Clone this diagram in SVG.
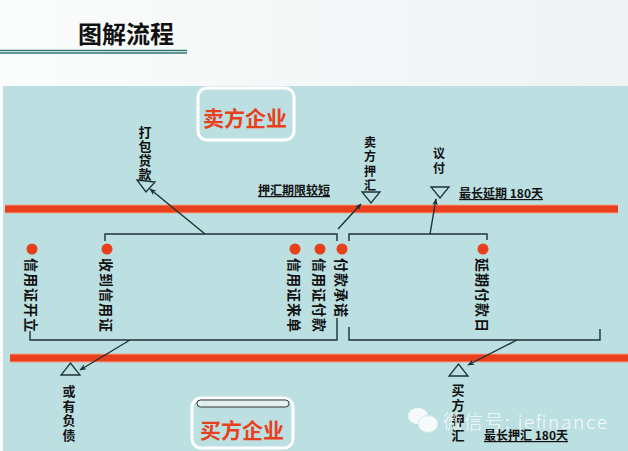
<svg xmlns="http://www.w3.org/2000/svg" width="628" height="451" viewBox="0 0 628 451">
<defs>
<linearGradient id="topbg" x1="0" y1="0" x2="1" y2="0">
<stop offset="0" stop-color="#fbfcfc"/>
<stop offset="1" stop-color="#eef3f3"/>
</linearGradient>
<marker id="arr" viewBox="0 0 10 10" refX="9" refY="5" markerWidth="7" markerHeight="7" orient="auto" markerUnits="userSpaceOnUse">
<path d="M0,1 L10,5 L0,9 L3,5 Z" fill="#1c3238"/>
</marker>
<style>
.cjk{font-family:"Noto Sans CJK SC","Liberation Sans",sans-serif;font-weight:bold;fill:#111}
.lbl{font-size:13px}
.rot{font-size:14px;letter-spacing:1px;dominant-baseline:central}
.firm{font-size:21px;fill:#e8401c;text-anchor:middle}
.redline{stroke:#e8401c;stroke-width:7}
.halo{stroke:#f3a68a;stroke-width:9}
.br{fill:none;stroke:#1c3238;stroke-width:1.4}
.arw{fill:none;stroke:#1c3238;stroke-width:1.4;marker-end:url(#arr)}
.tri{fill:none;stroke:#1c3238;stroke-width:1.3}
.dot{fill:#e8401c}
.note{font-size:12px;text-decoration:underline}
</style>
</defs>

<rect x="0" y="0" width="628" height="451" fill="url(#topbg)"/>
<rect x="3" y="86" width="625" height="365" fill="#bcdfe2"/>

<g id="title">
<text x="78" y="43" class="cjk" style="font-size:24px">图解流程</text>
<line x1="0" y1="50.5" x2="187" y2="50.5" stroke="#2f7a70" stroke-width="1.5"/>
<line x1="0" y1="53" x2="187" y2="53" stroke="#2f7a70" stroke-width="1.5"/>
</g>

<g id="timelines">
<line x1="5" y1="209" x2="618" y2="209" class="halo"/>
<line x1="5" y1="209" x2="618" y2="209" class="redline"/>
<line x1="10" y1="358" x2="628" y2="358" class="halo"/>
<line x1="10" y1="358" x2="628" y2="358" class="redline"/>
</g>

<g id="seller">
<rect x="198" y="88" width="96" height="52" rx="9" fill="none" stroke="#ffffff" stroke-width="3"/>
<text x="245" y="126" class="cjk firm">卖方企业</text>
</g>

<g id="buyer">
<rect x="192" y="398" width="101" height="50" rx="9" fill="none" stroke="#ffffff" stroke-width="3"/>
<rect x="197" y="400" width="92" height="7" rx="3.5" fill="#e2f0f1" stroke="#333" stroke-width="1"/>
<text x="242" y="438" class="cjk firm">买方企业</text>
</g>

<g id="connectors">
<polyline class="br" points="105,241 105,234 337,234 337,241"/>
<polyline class="br" points="349,241 349,234 487,234 487,240"/>
<polyline class="br" points="30,331 30,340 337,340 337,318"/>
<polyline class="br" points="349,327 349,340 600,340 600,329"/>
<line class="arw" x1="205" y1="234" x2="150" y2="189"/>
<line class="arw" x1="338" y1="229" x2="361" y2="204"/>
<line class="arw" x1="430" y1="234" x2="436" y2="199"/>
<line class="arw" x1="130" y1="340" x2="80" y2="370"/>
<line class="arw" x1="517" y1="340" x2="468" y2="365"/>
</g>

<g id="packing-loan">
<polygon class="tri" points="137,180 155,182 146,192"/>
<text class="cjk lbl" text-anchor="middle"><tspan x="145" y="137">打</tspan><tspan x="145" y="151">包</tspan><tspan x="145" y="165">贷</tspan><tspan x="145" y="179">款</tspan></text>
</g>

<g id="seller-nego">
<polygon class="tri" points="362,192 380,192 371,203"/>
<text class="cjk" style="font-size:12px" text-anchor="middle"><tspan x="370" y="147">卖</tspan><tspan x="370" y="161">方</tspan><tspan x="370" y="176">押</tspan><tspan x="370" y="190">汇</tspan></text>
</g>

<g id="negotiation">
<polygon class="tri" points="431,187 449,187 440,198"/>
<text class="cjk" style="font-size:12px" text-anchor="middle"><tspan x="439" y="158">议</tspan><tspan x="439" y="173">付</tspan></text>
</g>

<g id="short-term">
<text x="258" y="195" class="cjk note">押汇期限较短</text>
</g>
<g id="max-deferral">
<text x="459" y="198" class="cjk note">最长延期 180天</text>
</g>

<g id="lc-issue">
<circle class="dot" cx="32" cy="249" r="5.5"/>
<text class="cjk rot" transform="translate(32,258) rotate(90)">信用证开立</text>
</g>
<g id="lc-received">
<circle class="dot" cx="107" cy="249" r="5.5"/>
<text class="cjk rot" transform="translate(107,258) rotate(90)">收到信用证</text>
</g>
<g id="lc-docs">
<circle class="dot" cx="295" cy="249" r="5.5"/>
<text class="cjk rot" transform="translate(295,258) rotate(90)">信用证来单</text>
</g>
<g id="lc-payment">
<circle class="dot" cx="320" cy="249" r="5.5"/>
<text class="cjk rot" transform="translate(320,258) rotate(90)">信用证付款</text>
</g>
<g id="pay-promise">
<circle class="dot" cx="342" cy="249" r="5.5"/>
<text class="cjk rot" transform="translate(342,258) rotate(90)">付款承诺</text>
</g>
<g id="deferred-date">
<circle class="dot" cx="483" cy="249" r="5.5"/>
<text class="cjk rot" transform="translate(483,258) rotate(90)">延期付款日</text>
</g>

<g id="contingent">
<polygon class="tri" points="61,375 80,375 70.5,363"/>
<text class="cjk lbl" text-anchor="middle"><tspan x="69" y="396">或</tspan><tspan x="69" y="411">有</tspan><tspan x="69" y="425">负</tspan><tspan x="69" y="440">债</tspan></text>
</g>

<g id="buyer-nego">
<polygon class="tri" points="449,376 468,376 458.5,364"/>
<text class="cjk lbl" text-anchor="middle"><tspan x="458" y="395">买</tspan><tspan x="458" y="410">方</tspan><tspan x="458" y="425">押</tspan><tspan x="458" y="440">汇</tspan></text>
</g>

<g id="watermark" opacity="0.85">
<ellipse cx="418" cy="416" rx="10" ry="8" fill="#ffffff"/>
<ellipse cx="428" cy="424" rx="10" ry="8.5" fill="#ffffff" stroke="#d6e8ea" stroke-width="1"/>
<text x="443" y="429" textLength="164" lengthAdjust="spacing" style="font-family:'Noto Sans CJK SC','Liberation Sans',sans-serif;font-size:19px;font-weight:300;fill:#ffffff">微信号: iefinance</text>
</g>

<g id="max-nego">
<text x="484" y="440" class="cjk note">最长押汇 180天</text>
</g>
</svg>
